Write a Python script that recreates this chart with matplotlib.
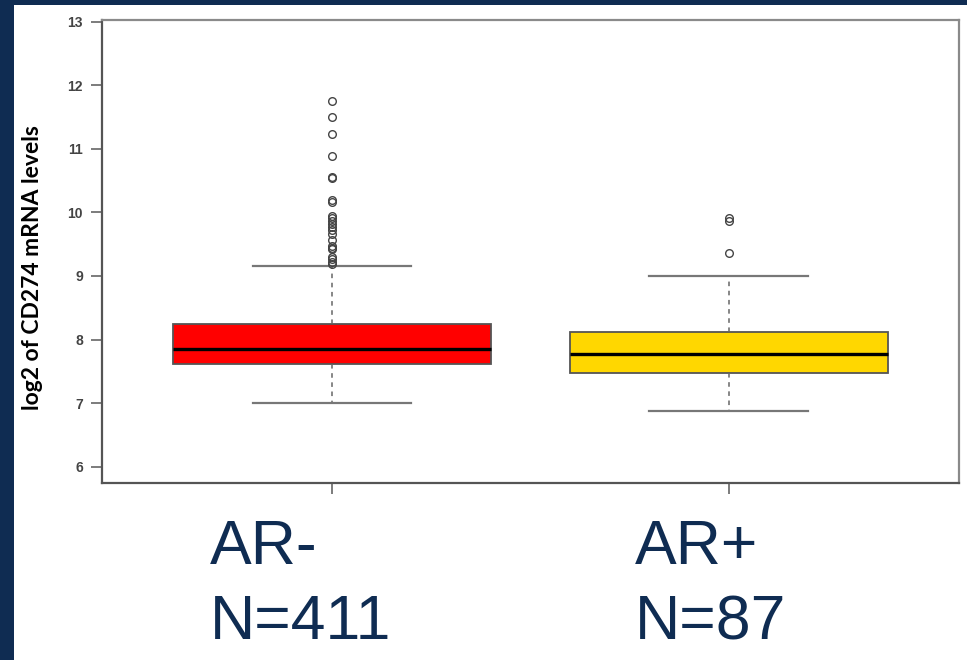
import matplotlib
matplotlib.use("Agg")
import matplotlib.pyplot as plt
from matplotlib.patches import Rectangle
from matplotlib import font_manager

groups = ["AR-", "AR+"]
counts = ["N=411", "N=87"]
box_colors = ["#FF0000", "#FFD700"]
q1 = [7.61, 7.48]
medians = [7.855, 7.78]
q3 = [8.24, 8.12]
whisker_low = [7.00, 6.88]
whisker_high = [9.16, 9.00]
outliers_neg = [11.75, 11.50, 11.23, 10.89, 10.56, 10.54, 10.19, 10.17, 9.95,
                9.91, 9.87, 9.82, 9.77, 9.72, 9.66, 9.56, 9.47, 9.44, 9.42,
                9.30, 9.26, 9.22, 9.19]
outliers_pos = [9.91, 9.87, 9.36]
outliers = [outliers_neg, outliers_pos]
yticks = [6, 7, 8, 9, 10, 11, 12, 13]
ylabel = "log2 of CD274 mRNA levels"

navy = "#0F2C52"

def has_font(name):
    try:
        font_manager.findfont(name, fallback_to_default=False)
        return True
    except Exception:
        return False

tick_family = "Liberation Sans Narrow" if has_font("Liberation Sans Narrow") else "Liberation Sans"

W, H = 967, 660
fig = plt.figure(figsize=(W / 100, H / 100), dpi=100)
fig.patch.set_facecolor("white")

# navy frame bands
fig.patches.append(Rectangle((0, 0), 14 / W, 1, transform=fig.transFigure,
                             facecolor=navy, edgecolor="none", zorder=0))
fig.patches.append(Rectangle((0, 1 - 5 / H), 1, 5 / H, transform=fig.transFigure,
                             facecolor=navy, edgecolor="none", zorder=0))

left, right, top, bottom = 101.7, 959, 20, 483
ax = fig.add_axes([left / W, 1 - bottom / H, (right - left) / W, (bottom - top) / H])

stats = []
for i in range(len(groups)):
    stats.append(dict(med=medians[i], q1=q1[i], q3=q3[i],
                      whislo=whisker_low[i], whishi=whisker_high[i],
                      fliers=outliers[i], label=groups[i]))

bp = ax.bxp(stats, positions=[1, 2], widths=0.8, patch_artist=True,
            showfliers=True,
            boxprops=dict(edgecolor="#555555", linewidth=1.3),
            medianprops=dict(color="black", linewidth=2.4),
            whiskerprops=dict(color="#666666", linewidth=1.1, linestyle=(0, (3, 3))),
            capprops=dict(color="#777777", linewidth=1.6),
            capwidths=0.4,
            flierprops=dict(marker="o", markerfacecolor="none",
                            markeredgecolor="#444444", markersize=5.5,
                            markeredgewidth=1.0))
for patch, c in zip(bp["boxes"], box_colors):
    patch.set_facecolor(c)

ax.set_xlim(0.42, 2.58)
ax.set_ylim(5.744, 13.024)
ax.set_yticks(yticks)
ax.set_yticklabels([str(t) for t in yticks], family=tick_family,
                   fontsize=10, color="#444444", fontweight="bold")
ax.set_xticks([1, 2])
ax.set_xticklabels(["", ""])
ax.tick_params(axis="y", length=8, width=1.2, color="#666666", pad=5.5)
ax.tick_params(axis="x", length=8, width=1.2, color="#666666")

for s in ["left", "bottom"]:
    ax.spines[s].set_color("#555555")
    ax.spines[s].set_linewidth(1.6)
for s in ["top", "right"]:
    ax.spines[s].set_color("#8a8a8a")
    ax.spines[s].set_linewidth(1.6)

fig.text(33 / W, 1 - 268 / H, ylabel, rotation=90, ha="center", va="center",
         family="Lato", fontweight="bold", fontsize=16.5, color="black")

# category labels below the axis
label_x = [210 / W, 635 / W]
for i in range(len(groups)):
    fig.text(label_x[i], 1 - 564 / H, groups[i], ha="left", va="baseline",
             family="Liberation Sans", fontsize=45, color=navy)
    fig.text(label_x[i], 1 - 639 / H, counts[i], ha="left", va="baseline",
             family="Liberation Sans", fontsize=45, color=navy)

fig.savefig("out.png", dpi=100, facecolor=fig.get_facecolor())
